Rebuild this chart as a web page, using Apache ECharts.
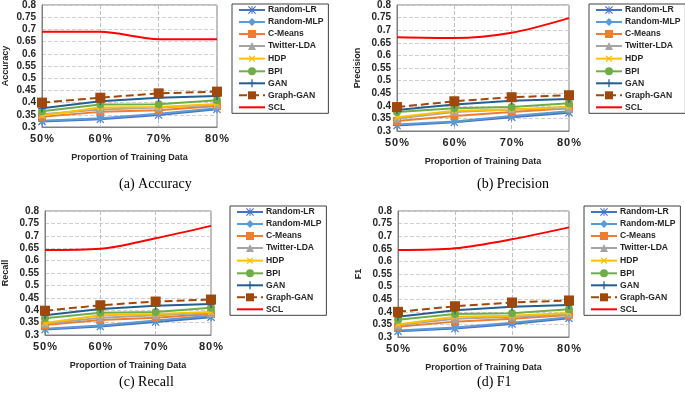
<!DOCTYPE html>
<html>
<head>
<meta charset="utf-8">
<script src="https://cdn.jsdelivr.net/npm/echarts@6/dist/echarts.min.js"></script>
<style>
  body { margin: 0; background: #fff; }
  #chart { width: 685px; height: 399px; }
</style>
</head>
<body>
<div id="chart"></div>
<script>
// categories + tick labels
const categories = ['50%', '60%', '70%', '80%'];
const methods = ['Random-LR', 'Random-MLP', 'C-Means', 'Twitter-LDA', 'HDP', 'BPI', 'GAN', 'Graph-GAN', 'SCL'];
const metrics = ['Accuracy', 'Precision', 'Recall', 'F1'];
const captions = ['(a) Accuracy', '(b) Precision', '(c) Recall', '(d) F1'];

// values, one array per method per metric
const accRandomLR = [0.323, 0.332, 0.349, 0.373];
const accRandomMLP = [0.326, 0.336, 0.354, 0.377];
const accCMeans = [0.342, 0.362, 0.369, 0.386];
const accTwitterLDA = [0.352, 0.372, 0.380, 0.390];
const accHDP = [0.347, 0.380, 0.382, 0.394];
const accBPI = [0.365, 0.392, 0.393, 0.410];
const accGAN = [0.377, 0.406, 0.420, 0.427];
const accGraphGAN = [0.400, 0.420, 0.438, 0.445];
const accSCL = [0.690, 0.690, 0.660, 0.660];

const preRandomLR = [0.322, 0.335, 0.355, 0.372];
const preRandomMLP = [0.326, 0.338, 0.360, 0.378];
const preCMeans = [0.340, 0.360, 0.375, 0.390];
const preTwitterLDA = [0.350, 0.375, 0.385, 0.390];
const preHDP = [0.355, 0.380, 0.385, 0.396];
const preBPI = [0.375, 0.390, 0.395, 0.410];
const preGAN = [0.383, 0.405, 0.420, 0.427];
const preGraphGAN = [0.395, 0.418, 0.434, 0.442];
const preSCL = [0.672, 0.669, 0.690, 0.748];

const recRandomLR = [0.322, 0.334, 0.352, 0.372];
const recRandomMLP = [0.325, 0.338, 0.358, 0.378];
const recCMeans = [0.340, 0.360, 0.370, 0.385];
const recTwitterLDA = [0.345, 0.370, 0.380, 0.390];
const recHDP = [0.348, 0.380, 0.385, 0.393];
const recBPI = [0.368, 0.390, 0.393, 0.410];
const recGAN = [0.380, 0.405, 0.418, 0.425];
const recGraphGAN = [0.398, 0.420, 0.435, 0.443];
const recSCL = [0.643, 0.648, 0.690, 0.740];

const f1RandomLR = [0.323, 0.334, 0.352, 0.374];
const f1RandomMLP = [0.326, 0.338, 0.357, 0.378];
const f1CMeans = [0.341, 0.361, 0.372, 0.387];
const f1TwitterLDA = [0.348, 0.372, 0.380, 0.390];
const f1HDP = [0.350, 0.380, 0.384, 0.395];
const f1BPI = [0.368, 0.391, 0.394, 0.410];
const f1GAN = [0.380, 0.406, 0.420, 0.427];
const f1GraphGAN = [0.400, 0.422, 0.437, 0.445];
const f1SCL = [0.645, 0.652, 0.688, 0.735];

const yTicks = ['0.3', '0.35', '0.4', '0.45', '0.5', '0.55', '0.6', '0.65', '0.7', '0.75', '0.8'];

const panelData = [
  [accRandomLR, accRandomMLP, accCMeans, accTwitterLDA, accHDP, accBPI, accGAN, accGraphGAN, accSCL],
  [preRandomLR, preRandomMLP, preCMeans, preTwitterLDA, preHDP, preBPI, preGAN, preGraphGAN, preSCL],
  [recRandomLR, recRandomMLP, recCMeans, recTwitterLDA, recHDP, recBPI, recGAN, recGraphGAN, recSCL],
  [f1RandomLR, f1RandomMLP, f1CMeans, f1TwitterLDA, f1HDP, f1BPI, f1GAN, f1GraphGAN, f1SCL]
];

const FONT = 'Liberation Sans';
const TXT = '#262626';

// marker shapes
const plusPath = 'path://M4.2,0L5.8,0L5.8,4.2L10,4.2L10,5.8L5.8,5.8L5.8,10L4.2,10L4.2,5.8L0,5.8L0,4.2L4.2,4.2Z';
const starPath = 'path://M4.4,0L5.6,0L5.6,10L4.4,10Z M0,4.4L10,4.4L10,5.6L0,5.6Z M0,1L1,0L10,9L9,10Z M9,0L10,1L1,10L0,9Z';
// thin bar inside a square box, so the legend shows a plain line for SCL
const dashPath = 'path://M0,0L0,0Z M10,10L10,10Z M0,4.5L10,4.5L10,5.5L0,5.5Z';

const styles = [
  { color: '#4472C4', symbol: starPath, size: 8 },
  { color: '#5B9BD5', symbol: 'diamond', size: 8 },
  { color: '#ED7D31', symbol: 'rect', size: 8 },
  { color: '#A5A5A5', symbol: 'triangle', size: 8 },
  { color: '#FFC000', symbol: plusPath, size: 8, rotate: 45 },
  { color: '#70AD47', symbol: 'circle', size: 8 },
  { color: '#255E91', symbol: plusPath, size: 8 },
  { color: '#9E480E', symbol: 'rect', size: 10, dashed: true },
  { color: '#FF0000', symbol: dashPath, size: 8, noMarks: true }
];

// panel boxes
const grids = [
  { left: 37, top: 5, width: 180, height: 122 },
  { left: 397, top: 4, width: 172, height: 127 },
  { left: 41, top: 211, width: 170, height: 124 },
  { left: 398, top: 211, width: 171, height: 126 }
];
const legendPos = [
  { left: 232, top: 4 },
  { left: 589, top: 4 },
  { left: 230, top: 206 },
  { left: 584, top: 206 }
];
const captionPos = [[164, 185], [522, 185], [164, 383], [522, 383]];

let option = {
  animation: false,
  grid: grids.map(g => Object.assign({ show: true, borderColor: '#7f7f7f', borderWidth: 1 }, g)),
  xAxis: grids.map((g, i) => ({
    type: 'category',
    gridIndex: i,
    data: categories,
    boundaryGap: false,
    name: 'Proportion of Training Data',
    nameLocation: 'middle',
    nameGap: 26,
    nameTextStyle: { fontFamily: FONT, fontWeight: 'bold', fontSize: 9, color: TXT },
    axisLine: { lineStyle: { color: '#7f7f7f' } },
    axisTick: { show: false },
    axisLabel: {
      fontFamily: FONT, fontWeight: 'bold', fontSize: 11, color: TXT, margin: 6,
      formatter: v => v.split('').join('\u200a')
    },
    splitLine: { show: true, lineStyle: { color: '#bfbfbf', type: 'dashed' } }
  })),
  yAxis: grids.map((g, i) => ({
    type: 'value',
    gridIndex: i,
    min: 0.3,
    max: 0.8,
    interval: 0.05,
    name: metrics[i],
    nameLocation: 'middle',
    nameGap: i === 0 ? 32 : 35,
    nameTextStyle: { fontFamily: FONT, fontWeight: 'bold', fontSize: 9, color: TXT },
    axisLine: { show: true, lineStyle: { color: '#7f7f7f' } },
    axisTick: { show: false },
    axisLabel: {
      fontFamily: FONT, fontWeight: 'bold', fontSize: 10, color: TXT, margin: 6,
      formatter: v => yTicks[Math.round((v - 0.3) / 0.05)]
    },
    splitLine: { lineStyle: { color: '#d0d0d0', type: 'dashed' } }
  })),
  legend: legendPos.map(p => ({
    data: methods,
    orient: 'vertical',
    left: p.left,
    top: p.top,
    itemWidth: 26,
    itemHeight: 10,
    itemGap: 2,
    padding: [1, 5, 1, 6],
    borderColor: '#404040',
    borderWidth: 1,
    textStyle: { fontFamily: FONT, fontWeight: 'bold', fontSize: 8.6, color: TXT, lineHeight: 10, padding: [0, 0, 0, -2] }
  })),
  graphic: captions.map((c, i) => ({
    type: 'text',
    left: captionPos[i][0] - 45,
    top: captionPos[i][1] - 8,
    style: { text: c, font: '14px "Liberation Serif"', fill: '#000', width: 90, align: 'center' }
  })),
  series: []
};

panelData.forEach((rows, p) => {
  rows.forEach((vals, k) => {
    const s = styles[k];
    option.series.push({
      name: methods[k],
      type: 'line',
      xAxisIndex: p,
      yAxisIndex: p,
      data: vals,
      symbol: s.symbol,
      symbolSize: s.size,
      symbolRotate: s.rotate || 0,
      showSymbol: !s.noMarks,
      smooth: k === 8 ? 0.3 : false,
      z: k === 8 ? 5 : 2 + k * 0.1,
      lineStyle: { color: s.color, width: 2, type: s.dashed ? 'dashed' : 'solid' },
      itemStyle: { color: s.color }
    });
  });
});

let myChart = echarts.init(document.getElementById('chart'));
myChart.setOption(option);
</script>
</body>
</html>
